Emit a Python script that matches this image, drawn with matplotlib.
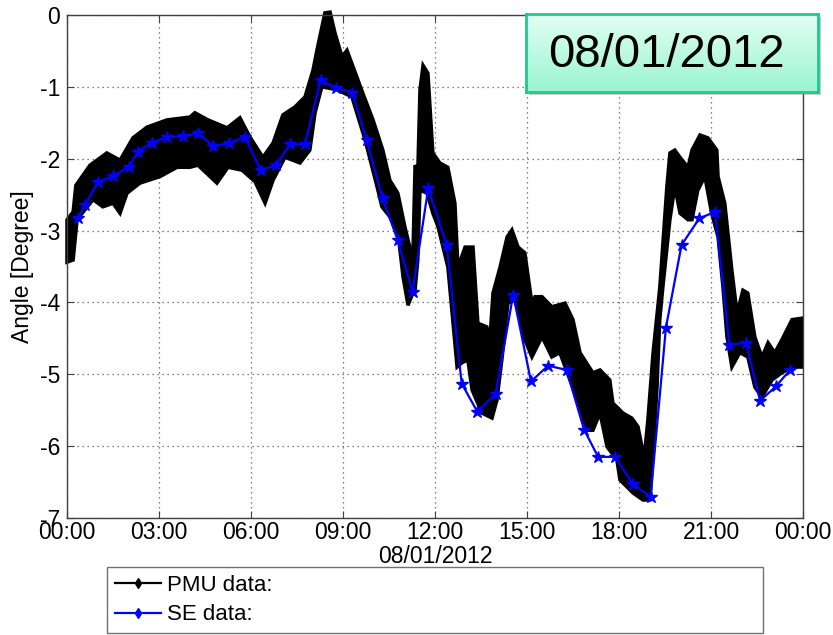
import numpy as np
import matplotlib
matplotlib.use('Agg')
import matplotlib.pyplot as plt
from matplotlib.colors import LinearSegmentedColormap
from matplotlib.lines import Line2D

plt.rcParams['font.family'] = ['Liberation Sans', 'DejaVu Sans']
plt.rcParams['axes.unicode_minus'] = False

# PMU data: envelope of the dense measurement band (hours, degrees)
pmu_upper_t = [0.00, 0.20, 0.29, 0.75, 1.30, 1.73, 2.15, 2.61, 3.26, 4.01, 4.17, 4.60,
               5.22, 5.64, 5.97, 6.39, 6.72, 7.04, 7.43, 7.76, 8.02, 8.15, 8.41, 8.58,
               8.74, 8.97, 9.13, 9.33, 9.65, 9.98, 10.30, 10.53, 10.79, 11.02, 11.18, 11.28,
               11.35, 11.44, 11.51, 11.61, 11.77, 11.93, 12.16, 12.42, 12.65, 12.75, 12.98, 13.24,
               13.40, 13.69, 13.79, 13.89, 14.12, 14.35, 14.51, 14.71, 14.93, 15.16, 15.26, 15.49,
               15.81, 16.24, 16.50, 16.73, 17.15, 17.38, 17.70, 17.80, 18.13, 18.42, 18.62, 18.75,
               18.85, 18.94, 19.11, 19.33, 19.56, 19.66, 19.82, 19.99, 20.25, 20.38, 20.64, 20.90,
               21.19, 21.23, 21.45, 21.68, 21.85, 22.04, 22.20, 22.43, 22.66, 22.86, 23.08, 23.31,
               23.64, 23.96]
pmu_upper_v = [-2.85, -2.74, -2.37, -2.09, -1.92, -2.02, -1.71, -1.56, -1.46, -1.42, -1.36, -1.46,
               -1.57, -1.43, -1.70, -1.98, -1.78, -1.39, -1.28, -1.14, -0.77, -0.49, 0.03, 0.04,
               -0.25, -0.58, -0.49, -0.72, -1.09, -1.46, -1.88, -2.30, -2.48, -2.95, -3.23, -3.34,
               -2.09, -2.16, -1.04, -0.70, -0.81, -1.92, -2.06, -2.12, -2.62, -3.51, -3.23, -3.23,
               -4.29, -4.34, -4.52, -3.87, -3.51, -3.09, -2.99, -3.23, -3.31, -4.01, -3.92, -3.92,
               -4.06, -4.01, -4.24, -4.70, -4.98, -4.94, -5.08, -5.40, -5.54, -5.61, -5.73, -6.01,
               -6.03, -5.64, -4.70, -3.79, -2.39, -1.92, -1.88, -1.98, -2.12, -1.88, -1.67, -1.71,
               -1.88, -2.25, -2.62, -3.55, -4.15, -3.83, -3.87, -4.48, -4.76, -4.56, -4.70, -4.52,
               -4.24, -4.22]
pmu_lower_t = [0.00, 0.20, 0.33, 0.85, 1.17, 1.50, 1.73, 1.96, 2.38, 3.03, 3.59, 4.01,
               4.27, 4.89, 5.25, 5.71, 6.13, 6.46, 6.72, 7.11, 7.60, 7.92, 8.09, 8.31,
               8.80, 9.29, 9.72, 10.11, 10.27, 10.53, 10.79, 10.96, 11.12, 11.28, 11.35, 11.44,
               11.51, 11.74, 11.93, 12.10, 12.42, 12.72, 12.88, 13.07, 13.21, 13.53, 13.86, 14.02,
               14.18, 14.38, 14.61, 14.93, 15.16, 15.49, 15.81, 16.07, 16.40, 16.73, 16.95, 17.15,
               17.38, 17.61, 17.93, 18.03, 18.45, 18.78, 19.01, 19.11, 19.24, 19.33, 19.43, 19.66,
               19.82, 19.99, 20.25, 20.38, 20.57, 20.80, 21.02, 21.23, 21.39, 21.52, 21.68, 21.94,
               22.20, 22.43, 22.66, 22.99, 23.31, 23.64, 23.96]
pmu_lower_v = [-3.44, -3.41, -2.85, -2.57, -2.67, -2.62, -2.76, -2.48, -2.34, -2.25, -2.12, -2.12,
               -2.09, -2.34, -2.12, -2.16, -2.32, -2.62, -2.30, -1.98, -2.06, -1.88, -1.36, -1.00,
               -1.04, -1.14, -1.74, -2.39, -2.67, -2.81, -3.03, -3.65, -4.04, -3.87, -3.83, -3.41,
               -2.44, -2.48, -2.76, -2.95, -3.51, -4.90, -4.84, -4.80, -5.22, -5.54, -5.61, -5.36,
               -4.80, -4.01, -3.97, -4.52, -4.76, -4.48, -4.76, -4.70, -5.08, -5.46, -5.78, -5.78,
               -5.54, -6.01, -6.19, -6.47, -6.65, -6.75, -6.75, -6.10, -5.18, -4.24, -3.79, -2.85,
               -2.39, -2.76, -2.85, -2.85, -2.44, -2.25, -2.76, -3.09, -3.79, -4.48, -4.90, -4.70,
               -4.76, -5.18, -5.32, -5.08, -4.98, -4.90, -4.90]

# SE data (state estimator, ~every 30 min)
se_t = [0.37, 0.59, 1.02, 1.51, 2.02, 2.31, 2.76, 3.25, 3.77, 4.28, 4.77, 5.29,
        5.80, 6.32, 6.81, 7.27, 7.76, 8.27, 8.77, 9.30, 9.77, 10.29, 10.78, 11.27,
        11.78, 12.38, 12.87, 13.38, 13.98, 14.55, 15.13, 15.69, 16.29, 16.86, 17.32, 17.87,
        18.46, 19.03, 19.53, 20.04, 20.62, 21.13, 21.60, 22.14, 22.60, 23.11, 23.58]
se_v = [-2.82, -2.64, -2.32, -2.24, -2.11, -1.90, -1.78, -1.70, -1.69, -1.64, -1.83, -1.78,
        -1.70, -2.16, -2.09, -1.80, -1.80, -0.91, -1.01, -1.08, -1.74, -2.55, -3.13, -3.85,
        -2.41, -3.20, -5.13, -5.52, -5.27, -3.89, -5.10, -4.88, -4.94, -5.77, -6.15, -6.15,
        -6.53, -6.71, -4.35, -3.20, -2.83, -2.74, -4.59, -4.56, -5.37, -5.17, -4.94]

xticks = [0, 3, 6, 9, 12, 15, 18, 21, 24]
xtick_labels = ['00:00', '03:00', '06:00', '09:00', '12:00', '15:00', '18:00', '21:00', '00:00']
yticks = [0, -1, -2, -3, -4, -5, -6, -7]

fig = plt.figure(figsize=(8.33, 6.35), dpi=100)
ax = fig.add_axes([0.0804, 0.1843, 0.8836, 0.7921])
ax.set_zorder(1)

# PMU band as one black polygon
poly_t = np.concatenate([pmu_upper_t, pmu_lower_t[::-1]])
poly_v = np.concatenate([pmu_upper_v, pmu_lower_v[::-1]])
ax.fill(poly_t, poly_v, color='black', lw=2.5, ec='black', zorder=2, clip_on=False)

ax.plot(se_t, se_v, color='blue', lw=1.6, marker='*', ms=9, zorder=3)

ax.set_xlim(0, 24)
ax.set_ylim(-7, 0)
ax.set_xticks(xticks)
ax.set_xticklabels(xtick_labels)
ax.set_yticks(yticks)
ax.set_yticklabels([str(v) for v in yticks])
ax.tick_params(direction='in', top=True, right=True, labelsize=16.5, length=5, pad=2,
               colors='0.25', labelcolor='black')
ax.tick_params(axis='y', pad=5)
ax.grid(True, linestyle=(0, (1, 3)), color='0.35', lw=0.9)
for s in ax.spines.values():
    s.set_color('0.25')
    s.set_linewidth(1.0)
ax.set_xlabel('08/01/2012', fontsize=16.5, labelpad=1)
ax.set_ylabel('Angle [Degree]', fontsize=16.5, labelpad=4)

handles = [Line2D([], [], color='black', lw=1.6, marker='d', ms=5),
           Line2D([], [], color='blue', lw=1.6, marker='d', ms=5)]
fig.legend(handles, ['PMU data:', 'SE data:'], loc='lower left',
           bbox_to_anchor=(0.1285, 0.003, 0.788, 0.101), mode='expand',
           fontsize=16, frameon=True, fancybox=False, edgecolor='0.3',
           handlelength=2.1, handletextpad=0.25, borderpad=0.35, labelspacing=0.38,
           borderaxespad=0)

# date annotation box with shadow and mint gradient
shadow = fig.add_axes([0.6345, 0.8500, 0.3505, 0.1228])
shadow.set_facecolor('0.55')
shadow.patch.set_alpha(0.45)
shadow.set_xticks([])
shadow.set_yticks([])
for s in shadow.spines.values():
    s.set_visible(False)
shadow.set_zorder(2)

box = fig.add_axes([0.6315, 0.8551, 0.3505, 0.1228])
mint = LinearSegmentedColormap.from_list('mint', ['#9af4d2', '#e2fff4'])
box.imshow(np.linspace(0, 1, 100).reshape(-1, 1), cmap=mint, aspect='auto',
           origin='lower', extent=[0, 1, 0, 1])
box.set_xlim(0, 1)
box.set_ylim(0, 1)
box.set_xticks([])
box.set_yticks([])
for s in box.spines.values():
    s.set_color('#22c890')
    s.set_linewidth(2)
box.text(0.48, 0.47, '08/01/2012', fontsize=34, ha='center', va='center', color='black')
box.set_zorder(3)

fig.savefig('out.png', dpi=100)
